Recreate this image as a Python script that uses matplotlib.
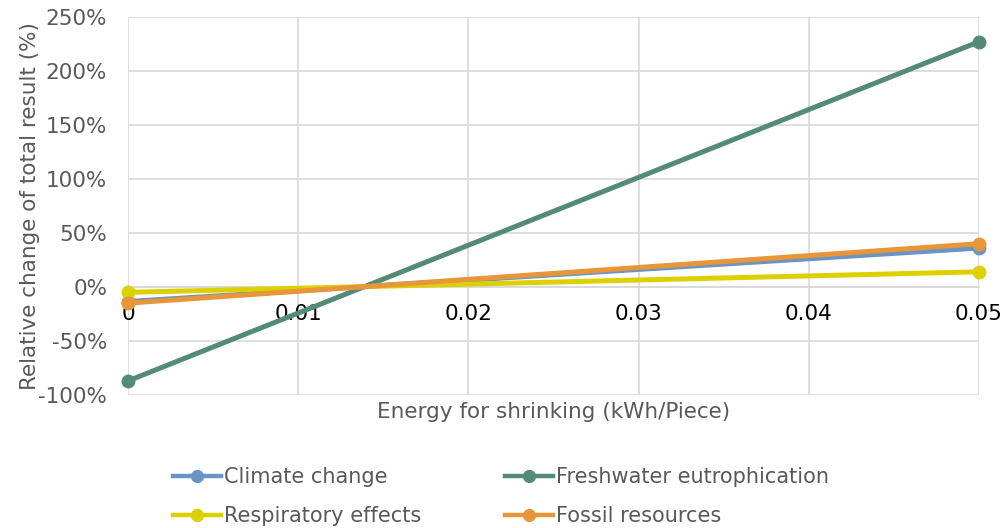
import matplotlib
matplotlib.use("Agg")
import matplotlib.pyplot as plt
from matplotlib.ticker import FuncFormatter
from matplotlib.lines import Line2D

# Sensitivity of impact results to shrinking energy
energy = [0.0, 0.05]
series_names = ["Climate change", "Freshwater eutrophication",
                "Respiratory effects", "Fossil resources"]
climate_change = [-13.5, 36]
freshwater_eutrophication = [-87, 227]
respiratory_effects = [-5, 14]
fossil_resources = [-15, 40]
series_values = [climate_change, freshwater_eutrophication,
                 respiratory_effects, fossil_resources]
colors = ["#6A94C6", "#548B76", "#DDD000", "#E8963A"]
x_ticks = [0, 0.01, 0.02, 0.03, 0.04, 0.05]
y_ticks = [-100, -50, 0, 50, 100, 150, 200, 250]

plt.rcParams["font.family"] = "DejaVu Sans"
FS = 15.5
GRAY = "#595959"

fig = plt.figure(figsize=(10.03, 5.28), dpi=100)
ax = fig.add_axes([0.1276, 0.252, 0.976 - 0.1276, 0.968 - 0.252])

for name, vals, c in zip(series_names, series_values, colors):
    ax.plot(energy, vals, color=c, lw=3.6, marker="o", ms=9,
            solid_capstyle="round", label=name, zorder=3, clip_on=False)

ax.set_xlim(0, 0.05)
ax.set_ylim(-100, 250)
ax.set_xticks(x_ticks)
ax.set_yticks(y_ticks)
ax.xaxis.set_major_formatter(FuncFormatter(lambda v, p: "0" if v == 0 else f"{v:.2f}"))
ax.yaxis.set_major_formatter(FuncFormatter(lambda v, p: f"{v:.0f}%"))

grid_c = "#D9D9D9"
ax.grid(True, color=grid_c, lw=1.2, zorder=0)
for s in ["top", "right", "left"]:
    ax.spines[s].set_visible(False)
ax.spines["bottom"].set_position(("data", 0))
ax.spines["bottom"].set_color(grid_c)
ax.spines["bottom"].set_linewidth(1.2)
ax.tick_params(axis="both", length=0)
ax.tick_params(axis="x", labelsize=FS, labelcolor="black", pad=12)
ax.tick_params(axis="y", labelsize=FS, labelcolor=GRAY, pad=15)
for lbl in ax.get_xticklabels():
    lbl.set_zorder(4)

ax.set_ylabel("Relative change of total result (%)", fontsize=FS, color=GRAY)
ax.yaxis.set_label_coords(-0.103, 0.5)
fig.text((128 + 979) / 2 / 1003, 1 - 412 / 528, "Energy for shrinking (kWh/Piece)",
         ha="center", va="center", fontsize=FS, color=GRAY)

# Two-column legend below the plot, filled row by row
handles = [Line2D([0], [0], color=c, lw=3.2, marker="o", ms=8.5) for c in colors]
col_x = [173 / 1003, 505 / 1003]
for col in range(2):
    idx = [col, col + 2]
    leg = fig.legend([handles[i] for i in idx], [series_names[i] for i in idx],
                     loc="center left", bbox_to_anchor=(col_x[col], 1 - 496.5 / 528),
                     frameon=False, fontsize=15, handlelength=2.3,
                     handletextpad=0.15, labelspacing=0.92, borderpad=0,
                     borderaxespad=0)
    for t in leg.get_texts():
        t.set_color(GRAY)

fig.savefig("out.png", dpi=100, facecolor="white")
